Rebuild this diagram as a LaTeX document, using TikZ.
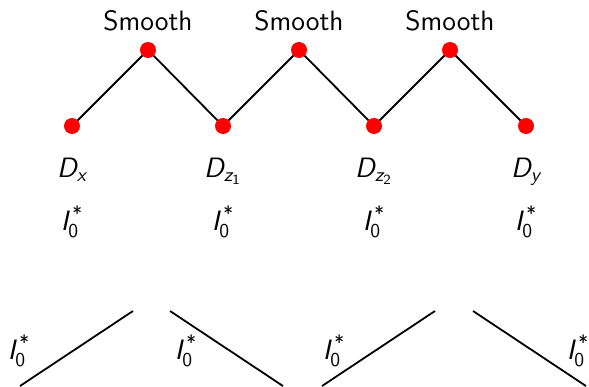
\documentclass[tikz,border=0pt]{standalone}
\usepackage{amsmath}
\usetikzlibrary{backgrounds}
\newcommand{\sfit}[1]{\textsf{\itshape #1}}
\newcommand{\sfup}[1]{\textsf{\upshape #1}}
\newcommand{\Izs}{$\sfit{I}_{\sfup{0}}^{\text{\sffamily\upshape\kern0.2em\raisebox{-0.45ex}{*}}}$}
\begin{document}
\begin{tikzpicture}[x=0.5pt,y=-0.5pt,
  dot/.style={circle,fill=red,inner sep=0pt,minimum size=8pt},
  lbl/.style={anchor=base,inner sep=0pt,font=\fontsize{14}{17}\selectfont\sffamily},
  link/.style={draw=black,line width=0.9pt}]
\useasboundingbox (0,0) rectangle (589,386);
% dots
\node[dot] (p1) at (72,126) {};
\node[dot] (q1) at (148,50) {};
\node[dot] (p2) at (223,126) {};
\node[dot] (q2) at (299,50) {};
\node[dot] (p3) at (374,126) {};
\node[dot] (q3) at (450,50) {};
\node[dot] (p4) at (526,126) {};
\begin{pgfonlayer}{background}
\draw[link] (p1.center) -- (q1.center) -- (p2.center) -- (q2.center) -- (p3.center) -- (q3.center) -- (p4.center);
\end{pgfonlayer}
% Smooth labels
\node[lbl] (s1) at (148,30) {Smooth};
\node[lbl] (s2) at (299,30) {Smooth};
\node[lbl] (s3) at (450,30) {Smooth};
% D labels
\node[lbl] (d1) at (72,177) {$\sfit{D}_{\sfit{x}}$};
\node[lbl] (d2) at (223,177) {$\sfit{D}_{\sfit{z}_{\sfup{1}}}$};
\node[lbl] (d3) at (374,177) {$\sfit{D}_{\sfit{z}_{\sfup{2}}}$};
\node[lbl] (d4) at (526,177) {$\sfit{D}_{\sfit{y}}$};
% I labels
\node[lbl] (i1) at (72,230) {\Izs};
\node[lbl] (i2) at (223,230) {\Izs};
\node[lbl] (i3) at (374,230) {\Izs};
\node[lbl] (i4) at (526,230) {\Izs};
% bottom
\coordinate (a1) at (20,386);
\coordinate (b1) at (133,311);
\coordinate (a2) at (170,311);
\coordinate (b2) at (283,386);
\coordinate (a3) at (322,386);
\coordinate (b3) at (435,311);
\coordinate (a4) at (473,311);
\coordinate (b4) at (586,386);
\draw[link] (a1) -- (b1);
\draw[link] (a2) -- (b2);
\draw[link] (a3) -- (b3);
\draw[link] (a4) -- (b4);
\node[lbl] (j1) at (19,359) {\Izs};
\node[lbl] (j2) at (186,359) {\Izs};
\node[lbl] (j3) at (334,359) {\Izs};
\node[lbl] (j4) at (578,359) {\Izs};
\end{tikzpicture}
\end{document}
